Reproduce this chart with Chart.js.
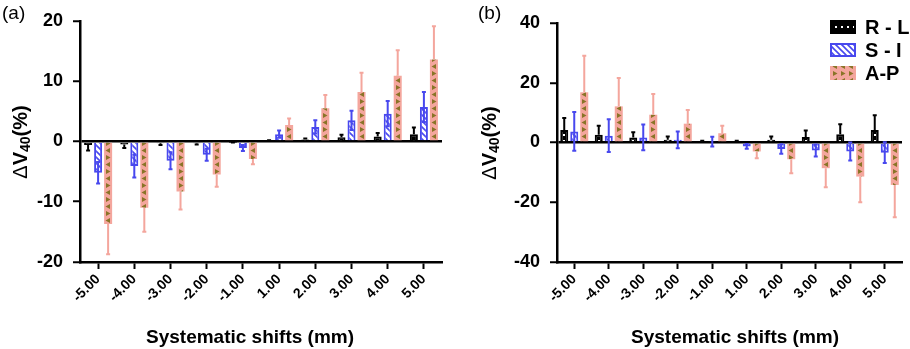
<!DOCTYPE html>
<html>
<head>
<meta charset="utf-8">
<script src="https://cdn.jsdelivr.net/npm/chart.js@4.4.1/dist/chart.umd.min.js"></script>
<style>
body { margin: 0; background: #fff; }
#wrap { position: relative; width: 910px; height: 349px; }
canvas { position: absolute; top: 0; }
#chartA { left: 0; }
#chartB { left: 455px; }
</style>
</head>
<body>
<div id="wrap">
  <canvas id="chartA" width="455" height="349"></canvas>
  <canvas id="chartB" width="455" height="349"></canvas>
</div>
<script>
const shifts = ['-5.00', '-4.00', '-3.00', '-2.00', '-1.00', '1.00', '2.00', '3.00', '4.00', '5.00'];
const seriesNames = ['R - L', 'S - I', 'A-P'];
const xTitle = 'Systematic shifts (mm)';

// panel (a): mean and SD of the change in V40 (%)
const rlMeanA = [-0.6, -0.5, -0.3, -0.3, -0.1, 0.1, 0.3, 0.7, 0.8, 1.2];
const rlSdA   = [0.9, 0.6, 0.3, 0.2, 0.1, 0.1, 0.2, 0.4, 0.6, 1.1];
const siMeanA = [-5.2, -4.1, -3.2, -2.2, -1.1, 1.2, 2.4, 3.5, 4.6, 5.7];
const siSdA   = [1.8, 1.9, 1.4, 1.0, 0.5, 0.6, 1.1, 1.6, 2.1, 2.5];
const apMeanA = [-13.7, -11.0, -8.3, -5.5, -2.9, 2.7, 5.5, 8.2, 10.9, 13.6];
const apSdA   = [5.0, 4.0, 3.0, 2.0, 0.9, 1.1, 2.2, 3.2, 4.2, 5.5];

// panel (b)
const rlMeanB = [4.2, 2.6, 1.7, 0.9, 0.3, 0.3, 0.9, 1.8, 2.8, 4.2];
const rlSdB   = [4.0, 3.0, 1.7, 1.1, 0.3, 0.3, 1.1, 2.2, 3.3, 4.9];
const siMeanB = [3.7, 2.3, 1.7, 0.9, 0.3, -1.3, -2.2, -2.7, -3.0, -3.4];
const siSdB   = [6.5, 5.5, 4.3, 2.8, 1.6, 0.8, 1.6, 2.0, 3.0, 3.5];
const apMeanB = [16.8, 12.1, 9.3, 6.3, 3.1, -3.0, -5.6, -8.6, -11.4, -14.2];
const apSdB   = [12.2, 9.5, 6.9, 4.6, 2.5, 2.3, 4.7, 6.4, 8.6, 10.8];

const BLUE = '#4848ee';
const SALMON = '#f4a69d';
const OLIVE = '#8a7427';
const FONT = '"Liberation Sans", Arial, sans-serif';

function makeTile(kind) {
    const c = document.createElement('canvas');
    const g = c.getContext('2d');
    if (kind === 'rl') {
        c.width = 6; c.height = 6;
        g.fillStyle = '#000'; g.fillRect(0, 0, 6, 6);
        g.fillStyle = '#fff'; g.fillRect(2, 2, 2, 2);
    } else if (kind === 'si') {
        c.width = 6; c.height = 6;
        g.fillStyle = '#fff'; g.fillRect(0, 0, 6, 6);
        g.strokeStyle = BLUE; g.lineWidth = 1.6;
        g.beginPath();
        g.moveTo(-1, -1); g.lineTo(7, 7);
        g.moveTo(-1, 5); g.lineTo(1, 7);
        g.moveTo(5, -1); g.lineTo(7, 1);
        g.stroke();
    } else {
        c.width = 8; c.height = 14;
        g.fillStyle = SALMON; g.fillRect(0, 0, 8, 14);
        g.fillStyle = OLIVE;
        g.beginPath(); g.moveTo(2, 1); g.lineTo(6.5, 3.5); g.lineTo(2, 6); g.closePath(); g.fill();
        g.beginPath(); g.moveTo(6, 8); g.lineTo(1.5, 10.5); g.lineTo(6, 13); g.closePath(); g.fill();
    }
    return c;
}

const tiles = { rl: makeTile('rl'), si: makeTile('si'), ap: makeTile('ap') };

// pattern shifted so that each bar starts its tile at the bar's left edge
function barFill(kind, catPct) {
    const tile = tiles[kind];
    return ctx => {
        const chart = ctx.chart;
        const pat = chart.ctx.createPattern(tile, 'repeat');
        const xs = chart.scales.x;
        if (ctx.type === 'data' && xs && xs.width) {
            const chunk = xs.width / shifts.length * catPct / 3;
            const cx = xs.getPixelForValue(ctx.dataIndex) + (ctx.datasetIndex - 1) * chunk;
            pat.setTransform(new DOMMatrix().translate(Math.round(cx - tile.width / 2), 0));
        }
        return pat;
    };
}

const errorBars = {
    id: 'errorBars',
    afterDatasetsDraw(chart) {
        const g = chart.ctx, ys = chart.scales.y;
        chart.data.datasets.forEach((ds, di) => {
            const meta = chart.getDatasetMeta(di);
            g.save();
            g.strokeStyle = ds.errColor;
            g.lineWidth = 2;
            meta.data.forEach((bar, i) => {
                const m = ds.data[i], s = ds.sd[i];
                const out = m >= 0 ? m + s : m - s;
                const inn = ds.twoSided ? (m >= 0 ? m - s : m + s) : m;
                const y1 = ys.getPixelForValue(out), y0 = ys.getPixelForValue(inn);
                g.beginPath();
                g.moveTo(bar.x, y0); g.lineTo(bar.x, y1);
                g.moveTo(bar.x - 2, y1); g.lineTo(bar.x + 2, y1);
                if (ds.twoSided) { g.moveTo(bar.x - 2, y0); g.lineTo(bar.x + 2, y0); }
                g.stroke();
            });
            g.restore();
        });
    }
};

const decor = {
    id: 'decor',
    afterDraw(chart, args, opts) {
        const g = chart.ctx;
        g.save();
        g.fillStyle = '#000';
        g.font = '19px ' + FONT;
        g.textAlign = 'left'; g.textBaseline = 'top';
        g.fillText(opts.panel, opts.panelX, 4);

        g.font = 'bold 19px ' + FONT;
        g.textAlign = 'center'; g.textBaseline = 'alphabetic';
        g.fillText(xTitle, opts.xTitleX, 343);

        if (opts.legend) {
            const sets = chart.data.datasets;
            g.font = 'bold 20px ' + FONT;
            g.textAlign = 'left'; g.textBaseline = 'middle';
            sets.forEach((ds, i) => {
                const y = 27 + i * 23;
                g.fillStyle = chart.ctx.createPattern(tiles[ds.kind], 'repeat');
                g.fillRect(opts.legendX, y - 7, 26, 14);
                if (ds.kind !== 'ap') {
                    g.strokeStyle = ds.borderColor; g.lineWidth = 2;
                    g.strokeRect(opts.legendX + 1, y - 6, 24, 12);
                }
                g.fillStyle = '#000';
                g.fillText(ds.label, opts.legendX + 35, y + 1);
            });
        }

        // y title: ΔV40(%) with subscript
        g.translate(opts.yTitleX, opts.yTitleY);
        g.rotate(-Math.PI / 2);
        const parts = [
            { t: '\u0394', f: '20px ' + FONT, dy: 0 },
            { t: 'V', f: 'bold 20px ' + FONT, dy: 0 },
            { t: '40', f: 'bold 14px ' + FONT, dy: 5 },
            { t: '(%)', f: 'bold 20px ' + FONT, dy: 0 }
        ];
        let w = 0;
        parts.forEach(p => { g.font = p.f; w += g.measureText(p.t).width; });
        let x = -w / 2;
        g.textAlign = 'left'; g.textBaseline = 'middle';
        g.fillStyle = '#000';
        parts.forEach(p => {
            g.font = p.f;
            g.fillText(p.t, x, p.dy);
            x += g.measureText(p.t).width;
        });
        g.restore();
    }
};

function makeChart(id, cfg) {
    return new Chart(document.getElementById(id), {
        type: 'bar',
        data: {
            labels: shifts,
            datasets: [
                { label: seriesNames[0], kind: 'rl', data: cfg.rl, sd: cfg.rlSd, backgroundColor: barFill('rl', cfg.catPct),
                  borderColor: '#000', borderWidth: 2, errColor: '#000' },
                { label: seriesNames[1], kind: 'si', data: cfg.si, sd: cfg.siSd, backgroundColor: barFill('si', cfg.catPct),
                  borderColor: BLUE, borderWidth: 2, errColor: BLUE, twoSided: true },
                { label: seriesNames[2], kind: 'ap', data: cfg.ap, sd: cfg.apSd, backgroundColor: barFill('ap', cfg.catPct),
                  borderColor: SALMON, borderWidth: 0, errColor: SALMON }
            ]
        },
        options: {
            responsive: false,
            animation: false,
            layout: { padding: { top: cfg.top, right: cfg.right, left: 0, bottom: 0 } },
            datasets: { bar: { categoryPercentage: cfg.catPct, barPercentage: 0.8 } },
            plugins: { legend: { display: false }, tooltip: { enabled: false }, decor: cfg.decor },
            scales: {
                x: {
                    offset: true,
                    grid: { display: true, offset: false, drawOnChartArea: false, tickColor: '#000', tickLength: 7, tickWidth: 2 },
                    border: { color: '#000', width: 2.5 },
                    ticks: { font: { family: FONT, weight: 'bold', size: 14 }, color: '#000',
                             minRotation: 45, maxRotation: 45, padding: 2, autoSkip: false },
                    afterFit: s => { s.height = 87; }
                },
                y: {
                    min: cfg.min, max: cfg.max,
                    grid: { color: c => c.tick && c.tick.value === 0 ? '#000' : 'rgba(0,0,0,0)', lineWidth: 2.5,
                            tickColor: '#000', tickLength: 7, tickWidth: 2 },
                    border: { color: '#000', width: 2.5 },
                    ticks: { stepSize: cfg.step, font: { family: FONT, weight: 'bold', size: 18 }, color: '#000', padding: 10 },
                    afterFit: s => { s.width = cfg.yWidth; }
                }
            }
        },
        plugins: [errorBars, decor]
    });
}

makeChart('chartA', {
    rl: rlMeanA, rlSd: rlSdA, si: siMeanA, siSd: siSdA, ap: apMeanA, apSd: apSdA,
    min: -20, max: 20, step: 10, catPct: 0.83, top: 18, right: 13, yWidth: 80,
    decor: { panel: '(a)', panelX: 2, xTitleX: 250, yTitleX: 21, yTitleY: 142 }
});

makeChart('chartB', {
    rl: rlMeanB, rlSd: rlSdB, si: siMeanB, siSd: siSdB, ap: apMeanB, apSd: apSdB,
    min: -40, max: 40, step: 20, catPct: 0.87, top: 23, right: 8, yWidth: 102,
    decor: { panel: '(b)', panelX: 23, xTitleX: 280, yTitleX: 35, yTitleY: 143, legend: true, legendX: 375 }
});
</script>
</body>
</html>
